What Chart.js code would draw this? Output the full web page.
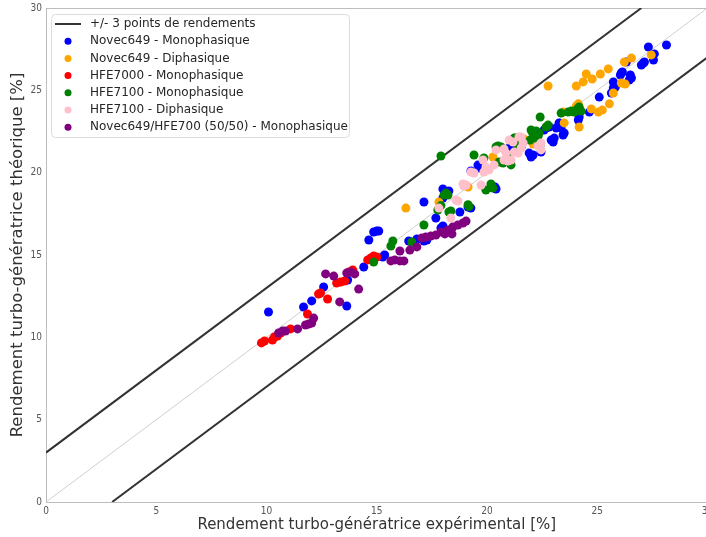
<!DOCTYPE html>
<html>
<head>
<meta charset="utf-8">
<script src="https://cdn.jsdelivr.net/npm/chart.js@4.4.0/dist/chart.umd.min.js"></script>
<style>
html,body{margin:0;padding:0;background:#fff;overflow:hidden;}
#wrap{width:712px;height:537px;position:relative;}
</style>
</head>
<body>
<div id="wrap"><canvas id="c"></canvas></div>
<script>
// ---- Axis ticks ----
const tickValues = [0, 5, 10, 15, 20, 25, 30];

// ---- Reference lines (+/- 3 points and y = x) ----
const upperLineX = [0, 27];
const upperLineY = [3, 30];
const lowerLineX = [3, 30];
const lowerLineY = [0, 27];
const diagX = [0, 30];
const diagY = [0, 30];

// ---- Series labels ----
const seriesLabels = [
  'Novec649 - Monophasique',
  'Novec649 - Diphasique',
  'HFE7000 - Monophasique',
  'HFE7100 - Monophasique',
  'HFE7100 - Diphasique',
  'Novec649/HFE700 (50/50) - Monophasique'
];
const lineLabel = '+/- 3 points de rendements';

// ---- Novec649 - Monophasique ----
const novecMonoX = [10.09,11.68,12.05,12.59,13.64,13.68,14.41,14.64,14.86,15.0,15.09,15.27,15.36,16.45,16.82,17.14,17.27,17.14,17.68,17.91,18.0,18.05,18.0,18.09,18.27,18.0,18.77,19.14,19.27,19.27,19.59,19.64,20.36,20.41,21.0,21.32,21.45,21.55,21.18,21.91,22.0,22.09,22.45,22.41,22.59,22.68,22.82,22.91,23.0,23.05,23.14,23.23,23.27,23.36,23.45,23.5,24.14,24.18,24.64,25.09,25.64,25.73,25.73,25.77,25.82,26.09,26.05,26.14,26.32,26.45,26.5,26.55,27.0,27.09,27.14,27.32,27.55,27.59,28.14];
const novecMonoY = [11.54,11.84,12.21,13.06,11.9,13.48,14.27,15.91,16.4,16.46,16.46,14.88,15.0,15.85,15.97,15.85,15.91,18.22,17.25,16.64,16.76,16.52,19.01,18.76,18.89,18.46,17.61,17.91,17.85,20.1,20.46,20.28,19.13,19.01,21.5,21.68,21.62,21.56,21.68,21.19,20.95,21.07,21.25,21.68,22.59,22.71,22.77,21.98,21.86,22.1,22.71,22.77,23.02,22.71,22.29,22.41,23.2,23.38,23.68,24.59,24.84,25.14,25.51,25.32,25.2,26.05,25.93,26.11,26.72,25.63,25.93,25.75,26.54,26.66,26.72,27.63,26.84,27.21,27.75];

// ---- Novec649 - Diphasique ----
const novecDiphX = [16.32,17.82,19.14,20.27,21.68,22.09,22.77,23.45,23.5,24.05,24.36,24.5,24.77,25.14,25.5,24.05,24.14,24.18,24.73,25.05,25.23,25.55,25.73,26.09,26.27,26.23,26.55,27.45];
const novecDiphY = [17.85,18.22,19.13,20.95,22.04,21.74,25.26,23.68,23.02,25.26,25.51,25.99,25.69,25.99,26.3,24.05,24.18,22.77,23.87,23.68,23.8,24.18,24.84,25.44,25.38,26.72,26.96,27.15];

// ---- HFE7000 - Monophasique ----
const hfe7000X = [9.77,9.91,10.27,10.36,10.5,10.64,11.09,11.86,12.36,12.45,12.77,13.18,13.36,13.55,13.73,13.91,14.59,14.73,14.86,15.0];
const hfe7000Y = [9.66,9.78,9.84,10.02,10.08,10.26,10.51,11.42,12.63,12.69,12.33,13.3,13.36,13.42,13.97,14.09,14.7,14.82,14.94,14.88];

// ---- HFE7100 - Monophasique ----
const hfe7100MonoX = [14.86,15.64,15.73,16.59,17.14,17.77,17.91,17.91,18.14,18.23,18.05,18.27,18.36,19.14,19.18,19.41,19.86,19.95,20.18,20.27,20.41,20.5,20.64,20.55,20.73,20.95,21.09,21.32,21.41,21.45,21.23,22.0,22.05,22.14,22.09,21.95,22.23,22.32,22.36,22.23,22.41,22.68,22.77,23.36,23.68,23.82,23.95,24.05,24.14,24.18,24.27];
const hfe7100MonoY = [14.57,15.55,15.85,15.79,16.82,17.73,18.0,21.01,18.76,18.64,18.64,17.61,17.67,18.05,17.94,21.07,20.89,18.95,19.31,19.07,21.56,21.62,21.56,20.65,20.59,20.95,20.47,22.1,21.5,21.68,22.1,22.59,22.47,22.29,22.1,21.98,22.1,22.23,22.41,22.53,23.38,22.77,22.89,23.62,23.68,23.74,23.68,23.8,23.93,23.99,23.74];

// ---- HFE7100 - Diphasique ----
const hfe7100DiphX = [17.82,18.36,18.59,18.68,18.91,19.05,18.95,19.27,19.41,19.73,19.82,19.95,19.86,20.09,20.32,20.41,20.77,20.86,20.77,20.95,21.09,21.0,21.18,21.23,21.41,21.55,21.45,21.55,21.64,22.32,22.41,22.45,22.45];
const hfe7100DiphY = [17.85,17.25,18.34,18.28,19.31,19.25,19.19,20.04,19.98,19.25,20.77,20.34,20.04,20.16,20.47,21.38,21.44,21.19,20.77,20.71,20.77,21.98,21.86,21.25,21.19,22.17,22.17,21.5,21.8,21.62,21.68,21.38,21.8];

// ---- Novec649/HFE700 (50/50) - Monophasique ----
const mixX = [10.55,10.73,10.86,11.41,11.77,11.91,12.05,12.14,12.68,13.05,13.32,13.64,13.82,14.0,14.18,15.64,15.82,16.05,16.05,16.23,16.5,16.82,17.05,17.23,17.45,17.68,17.91,18.09,18.23,18.45,18.68,18.91,19.05,18.41];
const mixY = [10.26,10.38,10.38,10.51,10.75,10.81,10.87,11.17,13.85,13.72,12.15,13.91,13.97,13.85,12.93,14.64,14.7,15.24,14.64,14.64,15.3,15.49,16.03,16.09,16.15,16.21,16.4,16.28,16.52,16.7,16.82,16.94,17.06,16.28];

const seriesColors = ['#0000ff', '#ffa500', '#ff0000', '#008000', '#ffc0cb', '#800080'];
const seriesX = [novecMonoX, novecDiphX, hfe7000X, hfe7100MonoX, hfe7100DiphX, mixX];
const seriesY = [novecMonoY, novecDiphY, hfe7000Y, hfe7100MonoY, hfe7100DiphY, mixY];

function pts(xs, ys) { return xs.map((x, i) => ({ x: x, y: ys[i] })); }

const datasets = [];
function lineDs(xs, ys, color, width, label, order) {
  return {
    type: 'line', label: label, data: pts(xs, ys), borderColor: color, borderWidth: width,
    pointRadius: 0, fill: false, order: order, showLine: true
  };
}
datasets.push(lineDs(diagX, diagY, '#cfcfcf', 1, 'diag', 20));
datasets.push(lineDs(upperLineX, upperLineY, '#333333', 2, lineLabel, 19));
datasets.push(lineDs(lowerLineX, lowerLineY, '#333333', 2, 'lower', 18));
seriesLabels.forEach((lab, i) => {
  datasets.push({
    type: 'scatter', label: lab, data: pts(seriesX[i], seriesY[i]),
    backgroundColor: seriesColors[i], borderWidth: 0, pointRadius: 4.5,
    pointHoverRadius: 4.5, order: 6 - i
  });
});

const legendPlugin = {
  id: 'customLegend',
  afterDraw(chart) {
    const ctx = chart.ctx;
    ctx.save();
    const bx = 51.5, by = 14.5, bw = 298, bh = 123, r = 4;
    ctx.beginPath();
    ctx.moveTo(bx + r, by);
    ctx.lineTo(bx + bw - r, by); ctx.quadraticCurveTo(bx + bw, by, bx + bw, by + r);
    ctx.lineTo(bx + bw, by + bh - r); ctx.quadraticCurveTo(bx + bw, by + bh, bx + bw - r, by + bh);
    ctx.lineTo(bx + r, by + bh); ctx.quadraticCurveTo(bx, by + bh, bx, by + bh - r);
    ctx.lineTo(bx, by + r); ctx.quadraticCurveTo(bx, by, bx + r, by);
    ctx.closePath();
    ctx.fillStyle = 'rgba(255,255,255,0.85)';
    ctx.fill();
    ctx.strokeStyle = '#dcdcdc';
    ctx.lineWidth = 1;
    ctx.stroke();
    ctx.font = '12px "DejaVu Sans"';
    ctx.textBaseline = 'middle';
    ctx.fillStyle = '#262626';
    const rowY0 = 24, rowStep = 17.2, textX = 90;
    ctx.strokeStyle = '#333333'; ctx.lineWidth = 2;
    ctx.beginPath(); ctx.moveTo(55, rowY0); ctx.lineTo(81, rowY0); ctx.stroke();
    ctx.fillText(lineLabel, textX, rowY0);
    seriesLabels.forEach((lab, i) => {
      const y = rowY0 + rowStep * (i + 1);
      ctx.fillStyle = seriesColors[i];
      ctx.beginPath(); ctx.arc(68, y, 3.5, 0, Math.PI * 2); ctx.fill();
      ctx.fillStyle = '#262626';
      ctx.fillText(lab, textX, y);
    });
    ctx.restore();
  }
};

const frameColor = '#bdbdbd';
const tickFont = { family: '"DejaVu Sans Condensed", "DejaVu Sans", sans-serif', size: 10 };
const xTitleFont = { family: '"DejaVu Sans", sans-serif', size: 15 };
const yTitleFont = { family: '"DejaVu Sans", sans-serif', size: 16.5 };

new Chart(document.getElementById('c'), {
  type: 'scatter',
  data: { datasets: datasets },
  options: {
    responsive: true,
    maintainAspectRatio: false,
    animation: false,
    layout: { padding: { top: 8, right: 0, left: 0, bottom: 0 } },
    plugins: { legend: { display: false }, tooltip: { enabled: false } },
    scales: {
      x: {
        type: 'linear', min: 0, max: 30,
        afterBuildTicks: (s) => { s.ticks = tickValues.map(v => ({ value: v })); },
        afterFit: (s) => { s.height = 35; s.paddingRight = 0; s.paddingLeft = 0; },
        grid: { display: false, drawTicks: false },
        border: { display: true, color: frameColor, width: 1 },
        ticks: { color: '#555555', font: tickFont, padding: 3, maxRotation: 0 },
        title: { display: true, text: 'Rendement turbo-génératrice expérimental [%]', color: '#333333', font: xTitleFont, padding: { top: 0, bottom: 3 } }
      },
      y: {
        type: 'linear', min: 0, max: 30,
        afterBuildTicks: (s) => { s.ticks = tickValues.map(v => ({ value: v })); },
        afterFit: (s) => { s.width = 46; s.paddingTop = 0; s.paddingBottom = 0; },
        grid: { display: false, drawTicks: false },
        border: { display: true, color: frameColor, width: 1 },
        ticks: { color: '#555555', font: tickFont, padding: 4 },
        title: { display: true, text: 'Rendement turbo-génératrice théorique [%]', color: '#333333', font: yTitleFont, padding: { top: 8, bottom: 0 } }
      },
      x2: {
        type: 'linear', position: 'top', min: 0, max: 30,
        afterFit: (s) => { s.height = 0; s.paddingRight = 0; s.paddingLeft = 0; },
        grid: { display: false, drawTicks: false },
        border: { display: true, color: frameColor, width: 1 },
        ticks: { display: false }
      },
      y2: {
        type: 'linear', position: 'right', min: 0, max: 30,
        afterFit: (s) => { s.width = 0; s.paddingTop = 0; s.paddingBottom = 0; },
        grid: { display: false, drawTicks: false },
        border: { display: true, color: '#888888', width: 1 },
        ticks: { display: false }
      }
    }
  },
  plugins: [legendPlugin]
});
</script>
</body>
</html>
